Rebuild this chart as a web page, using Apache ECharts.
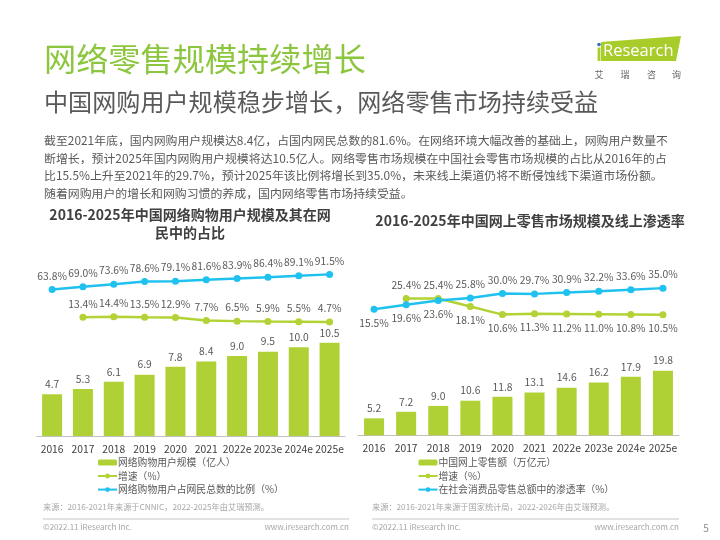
<!DOCTYPE html>
<html><head><meta charset="utf-8">
<script src="https://cdn.jsdelivr.net/npm/echarts@6/dist/echarts.min.js"></script>
<style>html,body{margin:0;padding:0;background:#fff}#c{width:720px;height:540px}</style>
</head><body><div id="c"></div>
<script>
// ---- data ----
const years = ['2016','2017','2018','2019','2020','2021','2022e','2023e','2024e','2025e'];
const userScale = [4.7,5.3,6.1,6.9,7.8,8.4,9.0,9.5,10.0,10.5];
const userGrowth = ['-',13.4,14.4,13.5,12.9,7.7,6.5,5.9,5.5,4.7];
const userShare = [63.8,69.0,73.6,78.6,79.1,81.6,83.9,86.4,89.1,91.5];
const retailScale = [5.2,7.2,9.0,10.6,11.8,13.1,14.6,16.2,17.9,19.8];
const retailGrowth = ['-',25.4,25.4,18.1,10.6,11.3,11.2,11.0,10.8,10.5];
const retailPen = [15.5,19.6,23.6,25.8,30.0,29.7,30.9,32.2,33.6,35.0];
const leftNames = ['网络购物用户规模（亿人）','增速（%）','网络购物用户占网民总数的比例（%）'];
const rightNames = ['中国网上零售额（万亿元）','增速（%）','在社会消费品零售总额中的渗透率（%）'];
const pageTitle = '网络零售规模持续增长';
const pageSubtitle = '中国网购用户规模稳步增长，网络零售市场持续受益';
const paragraph = [
 '截至2021年底，国内网购用户规模达8.4亿，占国内网民总数的81.6%。在网络环境大幅改善的基础上，网购用户数量不',
 '断增长，预计2025年国内网购用户规模将达10.5亿人。网络零售市场规模在中国社会零售市场规模的占比从2016年的占',
 '比15.5%上升至2021年的29.7%，预计2025年该比例将增长到35.0%，未来线上渠道仍将不断侵蚀线下渠道市场份额。',
 '随着网购用户的增长和网购习惯的养成，国内网络零售市场持续受益。'
];
const leftTitle = ['2016-2025年中国网络购物用户规模及其在网','民中的占比'];
const rightTitle = '2016-2025年中国网上零售市场规模及线上渗透率';
const leftSource = '来源：2016-2021年来源于CNNIC，2022-2025年由艾瑞预测。';
const rightSource = '来源：2016-2021年来源于国家统计局，2022-2026年由艾瑞预测。';
const copyright = '©2022.11 iResearch Inc.';
const website = 'www.iresearch.com.cn';

// ---- styles ----
const FONT = '"Noto Sans CJK SC","Noto Sans",sans-serif';
const GREEN_BAR = '#afd136', GREEN_LINE = '#b2d235', BLUE = '#1fc1ef';
const LABEL = '#595959';
const FS = 10.3;

const chart = echarts.init(document.getElementById('c'), null, {renderer:'canvas'});

function pct(p){ return typeof p.value === 'number' ? p.value.toFixed(1)+'%' : ''; }
function num(p){ return p.value.toFixed(1); }
const pctLabel = {show:true, position:'top', distance:5, fontSize:FS, color:LABEL, fontFamily:FONT, formatter:pct};
const barLabel = {show:true, position:'top', distance:5, fontSize:FS, color:LABEL, fontFamily:FONT, formatter:num};

function lineSeries(name, color, xi, yi, data){
  return {type:'line', name, xAxisIndex:xi, yAxisIndex:yi, data,
    symbol:'circle', symbolSize:7, itemStyle:{color}, lineStyle:{color, width:2.5},
    label:pctLabel, z:3};
}
function barSeries(name, xi, yi, data){
  return {type:'bar', name, xAxisIndex:xi, yAxisIndex:yi, data, barWidth:20,
    itemStyle:{color:GREEN_BAR}, label:barLabel};
}
function xAxis(gi){
  return {type:'category', gridIndex:gi, data:years, axisTick:{show:false},
    axisLine:{lineStyle:{color:'#bfbfbf', width:1}},
    axisLabel:{fontSize:FS, color:'#404040', fontFamily:FONT, margin:8, interval:0}};
}
function yAxis(gi, min, max){
  return {type:'value', gridIndex:gi, min, max, show:false, splitLine:{show:false}};
}
function legend(names, left){
  return {data:names, orient:'vertical', left, top:457.5, padding:0, itemWidth:19, itemHeight:6, itemGap:3.8,
    selectedMode:false, textStyle:{fontSize:9.8, color:LABEL, fontFamily:FONT, padding:[0,0,0,-4]}};
}

const rightGrowthData = retailGrowth.map((v,i)=>({value:v, label:{position: i<=2 ? 'top' : 'bottom'}}));
const rightPenData = retailPen.map((v,i)=>({value:v, label:{position: i<=2 ? 'bottom' : 'top'}}));

const txt = (x,y,text,size,color,extra) => ({type:'text', x, y, style:Object.assign({text, fontSize:size, fill:color, fontFamily:FONT, textVerticalAlign:'middle'}, extra||{})});

const graphics = [
  txt(44,59,pageTitle,32.2,'#8cc63f'),
  txt(44,102,pageSubtitle,24.1,'#595959'),
  ...paragraph.map((l,i)=>txt(44,140.8+i*17.4,l,11.9,'#595959')),
  txt(190,215,leftTitle[0],14,'#404040',{fontWeight:'bold',textAlign:'center'}),
  txt(190,233,leftTitle[1],14,'#404040',{fontWeight:'bold',textAlign:'center'}),
  txt(530,221,rightTitle,14,'#404040',{fontWeight:'bold',textAlign:'center'}),
  txt(43,507,leftSource,8.2,'#a6a6a6'),
  txt(372,507,rightSource,8.2,'#a6a6a6'),
  {type:'line', shape:{x1:43,y1:519,x2:349,y2:519}, style:{stroke:'#d9d9d9', lineWidth:1.5}},
  {type:'line', shape:{x1:372,y1:519,x2:679,y2:519}, style:{stroke:'#d9d9d9', lineWidth:1.5}},
  txt(43,526.5,copyright,8,'#a6a6a6'),
  txt(349,526.5,website,8,'#a6a6a6',{textAlign:'right'}),
  txt(372,526.5,copyright,8,'#a6a6a6'),
  txt(679,526.5,website,8,'#a6a6a6',{textAlign:'right'}),
  txt(706,528,'5',10,'#8c8c8c',{textAlign:'center'}),
  // logo
  {type:'polygon', shape:{points:[[601,42],[681,36],[676,61],[601,61]]}, style:{fill:'#a8cc2a'}},
  {type:'circle', shape:{cx:599,cy:44.5,r:1.8}, style:{fill:'#2a6fc9'}},
  {type:'rect', shape:{x:597.6,y:47.5,width:2.8,height:13.5}, style:{fill:'#a8cc2a'}},
  txt(603,51.5,'Research',16.5,'#ffffff',{fontFamily:'"Open Sans",sans-serif'}),
  txt(599,74.7,'艾',9,'#666',{textAlign:'center'}),
  txt(625,74.7,'瑞',9,'#666',{textAlign:'center'}),
  txt(651.5,74.7,'咨',9,'#666',{textAlign:'center'}),
  txt(676.5,74.7,'询',9,'#666',{textAlign:'center'})
];

const option = {
  animation:false,
  backgroundColor:'#fff',
  textStyle:{fontFamily:FONT},
  grid:[
    {left:36.7, right:720-345, top:260, bottom:104, containLabel:false},
    {left:358, right:720-679, top:260, bottom:104.7, containLabel:false}
  ],
  xAxis:[xAxis(0), xAxis(1)],
  yAxis:[
    yAxis(0, 0, 176/8.88),
    yAxis(0, -111.3/0.55, 64.7/0.55),
    yAxis(1, 0, 175.3/3.265),
    yAxis(1, -109.2/1.085, 66.1/1.085)
  ],
  legend:[legend(leftNames, 97), legend(rightNames, 417.5)],
  series:[
    barSeries(leftNames[0],0,0,userScale),
    lineSeries(leftNames[1],GREEN_LINE,0,1,userGrowth),
    lineSeries(leftNames[2],BLUE,0,1,userShare),
    barSeries(rightNames[0],1,2,retailScale),
    lineSeries(rightNames[1],GREEN_LINE,1,3,rightGrowthData),
    lineSeries(rightNames[2],BLUE,1,3,rightPenData)
  ],
  graphic:graphics
};
chart.setOption(option);
</script></body></html>
